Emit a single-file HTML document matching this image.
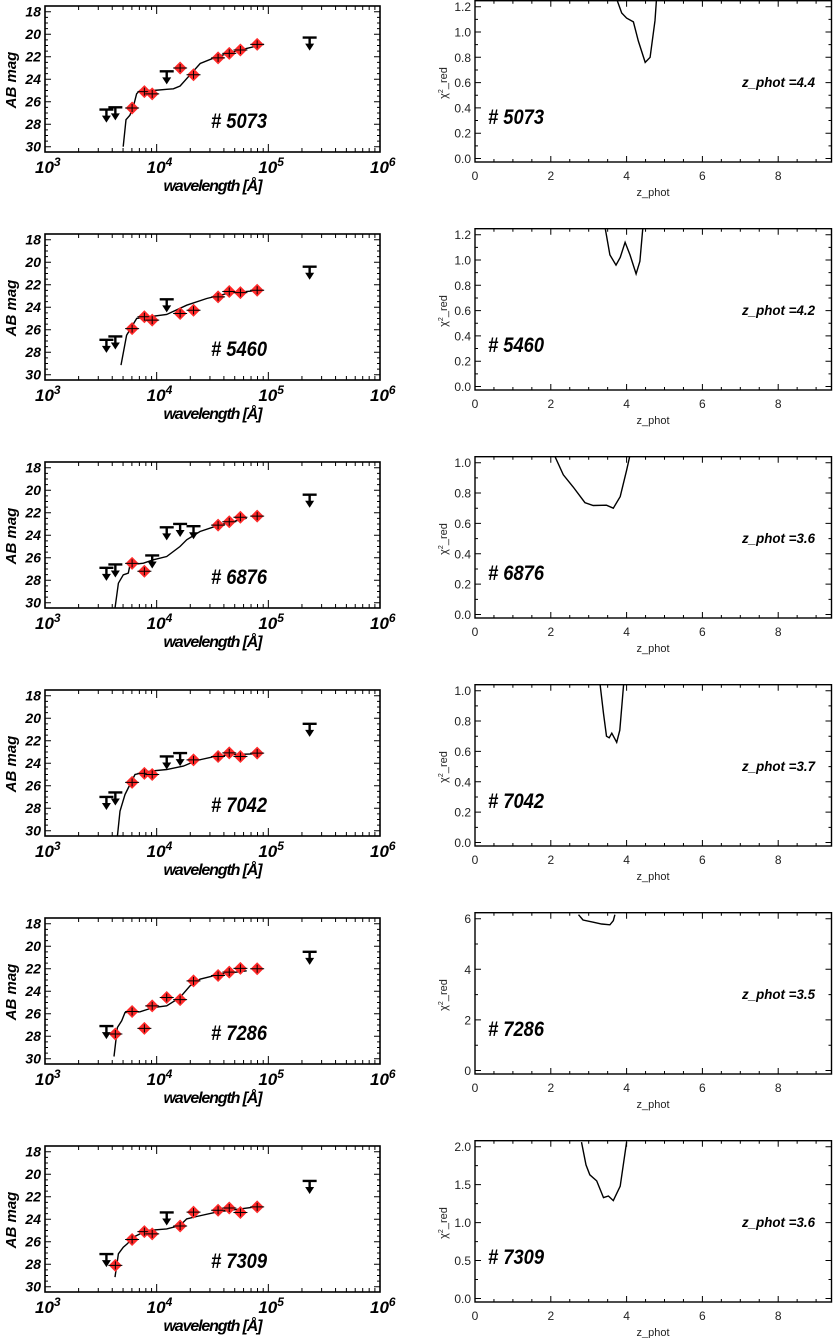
<!DOCTYPE html>
<html><head><meta charset="utf-8"><style>
html,body{margin:0;padding:0;background:#fff;}
svg{display:block;}
.bi{font-family:"Liberation Sans",sans-serif;font-weight:bold;font-style:italic;fill:#000;}
.rn{font-family:"Liberation Sans",sans-serif;fill:#222;}
</style></head><body>
<svg id="fig" width="833" height="1338" viewBox="0 0 833 1338" xmlns="http://www.w3.org/2000/svg"></svg>
<script>
const objectIds = ["5073","5460","6876","7042","7286","7309"];
const zphotLabels = ["4.4","4.2","3.6","3.7","3.5","3.6"];
const filterLogWl = [3.55,3.63,3.78,3.89,3.96,4.09,4.21,4.33,4.55,4.65,4.75,4.90,5.37];

const mag_5073 = [26.7,26.5,26.56,25.1,25.3,23.3,23.0,23.6,22.1,21.7,21.4,20.9,20.3];
const type_5073 = ["u","u","d","d","d","u","d","d","d","d","d","d","u"];
const mag_5460 = [26.9,26.6,25.9,24.85,25.15,23.3,24.56,24.27,23.08,22.6,22.7,22.49,20.4];
const type_5460 = ["u","u","d","d","d","u","d","d","d","d","d","d","u"];
const mag_6876 = [26.9,26.6,26.5,27.2,25.8,23.3,23.0,23.2,23.1,22.8,22.4,22.3,20.4];
const type_6876 = ["u","u","d","d","u","u","u","u","d","d","d","d","u"];
const mag_7042 = [27.0,26.6,25.7,24.9,25.0,23.4,23.1,23.7,23.4,23.08,23.4,23.1,20.5];
const type_7042 = ["u","u","d","d","d","u","u","d","d","d","d","d","u"];
const mag_7286 = [27.1,27.8,25.8,27.3,25.3,24.56,24.75,23.08,22.6,22.3,21.97,22.0,20.5];
const type_7286 = ["u","d","d","d","d","d","d","d","d","d","d","d","u"];
const mag_7309 = [27.1,28.1,25.8,25.1,25.3,23.4,24.6,23.37,23.2,23.0,23.4,22.9,20.6];
const type_7309 = ["u","d","d","d","d","u","d","d","d","d","d","d","u"];

const model_5073_wl = [3.70,3.725,3.76,3.79,3.82,3.85,3.97,4.09,4.15,4.21,4.30,4.39,4.54,4.75,4.96];
const model_5073_mag = [30.0,27.6,27.2,26.5,25.3,25.0,25.0,24.9,24.85,24.6,23.6,22.6,22.0,21.4,20.9];
const model_5460_wl = [3.681,3.731,3.776,3.821,4.09,4.269,4.448,4.657,4.955];
const model_5460_mag = [29.15,26.49,25.74,25.0,24.65,23.82,23.23,22.72,22.49];
const model_6876_wl = [3.627,3.657,3.701,3.746,3.761,3.881,3.970,4.090,4.209,4.269,4.388,4.567,4.806];
const model_6876_mag = [30.49,28.27,27.52,27.37,26.63,26.49,26.19,25.89,25.0,24.41,23.67,23.08,22.49];
const model_7042_wl = [3.648,3.672,3.716,3.761,3.806,3.940,4.090,4.239,4.358,4.537,4.687,4.866];
const model_7042_mag = [30.49,28.27,26.78,25.89,25.0,24.71,24.56,24.26,23.76,23.37,23.23,23.17];
const model_7286_wl = [3.618,3.648,3.687,3.716,3.851,3.970,4.090,4.209,4.299,4.388,4.567,4.806];
const model_7286_mag = [29.80,27.23,26.63,25.89,25.83,25.45,25.30,24.56,23.52,22.93,22.49,22.19];
const model_7309_wl = [3.627,3.657,3.701,3.737,3.791,3.910,4.090,4.209,4.269,4.358,4.537,4.866];
const model_7309_mag = [29.15,27.08,26.49,26.19,25.60,25.0,24.86,24.56,23.97,23.76,23.37,22.93];

const chi_5073_z = [3.74,3.87,4.0,4.18,4.31,4.49,4.62,4.75,4.79];
const chi_5073_v = [1.26,1.15,1.11,1.08,0.93,0.76,0.80,1.09,1.26];
const chi_5460_z = [3.43,3.56,3.72,3.83,3.96,4.09,4.25,4.35,4.43];
const chi_5460_v = [1.26,1.04,0.96,1.02,1.14,1.04,0.89,0.99,1.26];
const chi_6876_z = [2.11,2.33,2.59,2.90,3.12,3.47,3.65,3.83,4.0,4.09];
const chi_6876_v = [1.04,0.92,0.84,0.737,0.718,0.72,0.70,0.777,0.95,1.05];
const chi_7042_z = [3.30,3.39,3.47,3.54,3.61,3.74,3.82,3.88,3.92];
const chi_7042_v = [1.04,0.85,0.70,0.69,0.72,0.66,0.74,0.92,1.04];
const chi_7286_z = [2.73,2.85,3.12,3.34,3.56,3.65,3.69];
const chi_7286_v = [6.16,5.95,5.86,5.79,5.76,5.92,6.16];
const chi_7309_z = [2.81,2.93,3.03,3.21,3.39,3.52,3.65,3.83,4.0];
const chi_7309_v = [2.06,1.76,1.63,1.55,1.33,1.35,1.29,1.48,2.06];

const chiTopValues = [1.2,1.2,1.0,1.0,6,2.0];
const chiMajorSteps = [0.2,0.2,0.2,0.2,2,0.5];
const chiMinorSteps = [0.1,0.1,0.1,0.1,1,0.25];
const zTicks = [0,2,4,6,8];
const magTicks = [18,20,22,24,26,28,30];
const wlTickExps = [3,4,5,6];

const mags = [mag_5073,mag_5460,mag_6876,mag_7042,mag_7286,mag_7309];
const types = [type_5073,type_5460,type_6876,type_7042,type_7286,type_7309];
const modelWl = [model_5073_wl,model_5460_wl,model_6876_wl,model_7042_wl,model_7286_wl,model_7309_wl];
const modelMag = [model_5073_mag,model_5460_mag,model_6876_mag,model_7042_mag,model_7286_mag,model_7309_mag];
const chiZ = [chi_5073_z,chi_5460_z,chi_6876_z,chi_7042_z,chi_7286_z,chi_7309_z];
const chiV = [chi_5073_v,chi_5460_v,chi_6876_v,chi_7042_v,chi_7286_v,chi_7309_v];

const NS = "http://www.w3.org/2000/svg";
const svg = document.getElementById("fig");
function mk(tag, attrs, parent, text){
  const e = document.createElementNS(NS, tag);
  for (const k in attrs) e.setAttribute(k, attrs[k]);
  if (text !== undefined) e.textContent = text;
  (parent || svg).appendChild(e);
  return e;
}
const ROW = 228;
const LX0 = 45, LX1 = 380;
const RX0 = 475, RX1 = 832;

for (let r = 0; r < 6; r++) {
  const top = r * ROW;
  const id = objectIds[r];
  const gL = mk("g", {}, svg);
  
  
  const xw = lw => LX0 + (lw - 3) * (LX1 - LX0) / 3;
  const ym = m => top + 11.7 + (m - 18) * 11.25;
  const fT = top + 6, fB = top + 152;
  const frame = mk("rect", {x: LX0, y: fT, width: LX1 - LX0, height: fB - fT, fill: "none", stroke: "#000", "stroke-width": 1.6}, gL);
  
  
  let d = "";
  for (let m = 18; m <= 30.01; m += 0.5) {
    const y = ym(m), len = (Math.abs(m % 2) < 0.01) ? 6 : 3;
    d += `M${LX0} ${y}h${len}M${LX1} ${y}h${-len}`;
  }
  for (let e = 3; e < 6; e++) for (let k = 1; k <= 9; k++) {
    const x = xw(e + Math.log10(k)), len = k === 1 ? 8 : 4;
    d += `M${x} ${fB}v${-len}M${x} ${fT}v${len}`;
  }
  mk("path", {d: d, stroke: "#000", "stroke-width": 1, fill: "none"}, gL);
  magTicks.forEach(m => {
    const t = mk("text", {x: 41, y: ym(m) + 5, "text-anchor": "end", "font-size": 14, class: "bi"}, gL, String(m));
    
    
  });
  wlTickExps.forEach(e => {
    const t = mk("text", {x: xw(e) - 10, y: top + 173, "font-size": 17, class: "bi"}, gL);
    
    
    mk("tspan", {}, t, "10");
    mk("tspan", {dy: -7, "font-size": 12}, t, String(e));
  });
  const yl = mk("text", {x: 0, y: 0, transform: `translate(16 ${top + 80}) rotate(-90)`, "text-anchor": "middle", "font-size": 15, class: "bi"}, gL, "AB mag");
  
  
  const xl = mk("text", {x: 213, y: top + 191, "text-anchor": "middle", "font-size": 16, class: "bi", textLength: 99}, gL, "wavelength [Å]");
  
  
  const lbl = mk("text", {x: 211, y: top + 128, "font-size": 21, class: "bi", textLength: 56, lengthAdjust: "spacingAndGlyphs"}, gL, "# " + id);
  
  
  const mp = modelWl[r].map((w, i) => `${xw(w).toFixed(1)},${ym(modelMag[r][i]).toFixed(1)}`).join(" ");
  const ml = mk("polyline", {points: mp, fill: "none", stroke: "#000", "stroke-width": 1.4}, gL);
  
  
  filterLogWl.forEach((w, i) => {
    const x = xw(w), y = ym(mags[r][i]);
    if (types[r][i] === "u") {
      const g = mk("g", {}, gL);
      
      
      mk("path", {d: `M${x - 7} ${y}h14M${x} ${y}v8`, stroke: "#000", "stroke-width": 2.4, fill: "none"}, g);
      mk("path", {d: `M${x - 4.5} ${y + 6}L${x + 4.5} ${y + 6}L${x} ${y + 13}Z`, fill: "#000"}, g);
    } else {
      const g = mk("g", {}, gL);
      
      
      mk("path", {d: `M${x} ${y - 6.5}L${x + 6.5} ${y}L${x} ${y + 6.5}L${x - 6.5} ${y}Z`, fill: "#ff2a2a"}, g);
      mk("path", {d: `M${x - 7} ${y}h14M${x} ${y - 4}v8`, stroke: "#000", "stroke-width": 1, fill: "none"}, g);
    }
  });

  const gR = mk("g", {}, svg);
  
  
  const rT = top + 0.7, rB = top + 162;
  const yTopPix = rT + 6, yZeroPix = rB - 3.5;
  const ymax = chiTopValues[r];
  const yc = v => yZeroPix - v * (yZeroPix - yTopPix) / ymax;
  const xz = z => RX0 + z * 37.9;
  const clipId = "clip" + r;
  const cp = mk("clipPath", {id: clipId}, gR);
  mk("rect", {x: RX0, y: rT, width: RX1 - RX0, height: rB - rT}, cp);
  const cp2 = chiZ[r].map((z, i) => `${xz(z).toFixed(1)},${yc(chiV[r][i]).toFixed(1)}`).join(" ");
  const cl = mk("polyline", {points: cp2, fill: "none", stroke: "#000", "stroke-width": 1.4, "clip-path": `url(#${clipId})`}, gR);
  
  
  const rf = mk("rect", {x: RX0, y: rT, width: RX1 - RX0 - 0.5, height: rB - rT, fill: "none", stroke: "#000", "stroke-width": 1.4}, gR);
  
  
  let d2 = "";
  const maj = chiMajorSteps[r], mn = chiMinorSteps[r];
  for (let v = 0; v <= ymax + 1e-6; v += mn) {
    const y = yc(v), isM = Math.abs(v / maj - Math.round(v / maj)) < 1e-6, len = isM ? 6 : 3;
    d2 += `M${RX0} ${y}h${len}M${RX1 - 0.5} ${y}h${-len}`;
  }
  for (let z = 0; z <= 9.4; z += 0.5) {
    const x = xz(z), len = (Math.abs(z % 2) < 1e-6) ? 6 : 3;
    d2 += `M${x} ${rB}v${-len}M${x} ${rT}v${len}`;
  }
  mk("path", {d: d2, stroke: "#000", "stroke-width": 1, fill: "none"}, gR);
  for (let v = 0; v <= ymax + 1e-6; v += maj) {
    const txt = maj >= 1 ? String(Math.round(v)) : v.toFixed(1);
    const t = mk("text", {x: 471, y: yc(v) + 4.5, "text-anchor": "end", "font-size": 12, class: "rn"}, gR, txt);
    
    
  }
  zTicks.forEach(z => {
    const t = mk("text", {x: xz(z), y: top + 180, "text-anchor": "middle", "font-size": 12, class: "rn"}, gR, String(z));
    
    
  });
  const zx = mk("text", {x: 653, y: top + 196, "text-anchor": "middle", "font-size": 11, class: "rn"}, gR, "z_phot");
  
  
  const cy = mk("text", {x: 0, y: 0, transform: `translate(447 ${top + 83}) rotate(-90)`, "text-anchor": "middle", "font-size": 11, class: "rn"}, gR);
  
  
  mk("tspan", {}, cy, "χ");
  mk("tspan", {dy: -4, "font-size": 7}, cy, "2");
  mk("tspan", {dy: 4}, cy, "_red");
  const zl = mk("text", {x: 742, y: top + 87, "font-size": 14, class: "bi", textLength: 73, lengthAdjust: "spacingAndGlyphs"}, gR, "z_phot  =" + zphotLabels[r]);
  
  
  const il = mk("text", {x: 488, y: top + 124, "font-size": 21, class: "bi", textLength: 56, lengthAdjust: "spacingAndGlyphs"}, gR, "# " + id);
  
  
}
</script>
</body></html>
